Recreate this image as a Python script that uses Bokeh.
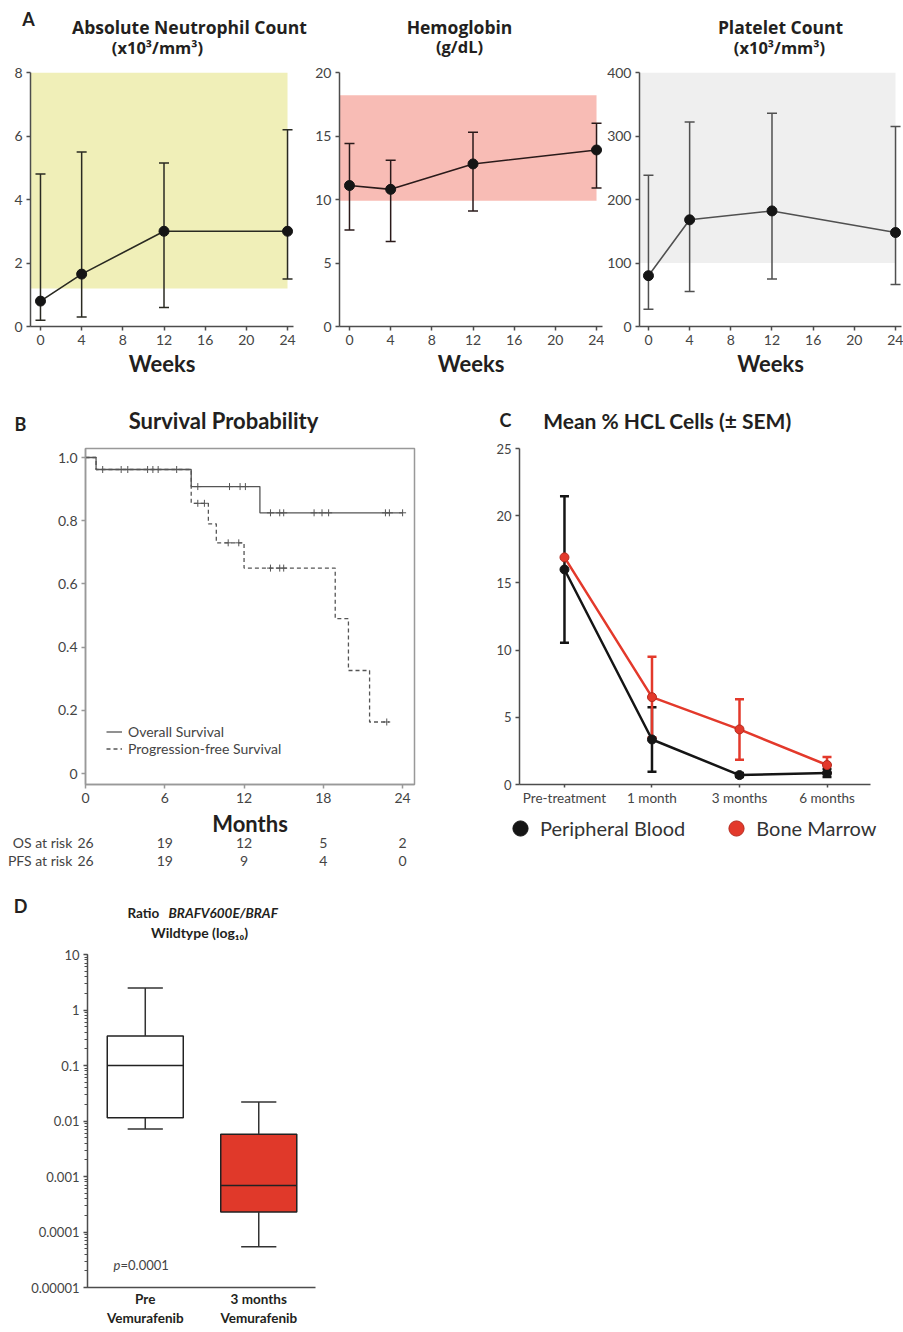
from bokeh.plotting import figure
from bokeh.layouts import column, row
from bokeh.core.properties import value
from bokeh.models import (Range1d, BoxAnnotation, Whisker, TeeHead, ColumnDataSource, Label,
                          FixedTicker, NumeralTickFormatter, Legend, LegendItem)
from bokeh.embed import file_html
from bokeh.resources import INLINE

FONT = "Lato"
TITLE_FONT = "Open Sans"
TXT = "#231f20"
AX = "#4d4d4d"

# ---------------- data ----------------
weeks = [0, 4, 12, 24]
week_ticks = [0, 4, 8, 12, 16, 20, 24]

anc_mean = [0.8, 1.65, 3.0, 3.0]
anc_lo = [0.2, 0.3, 0.6, 1.5]
anc_hi = [4.8, 5.5, 5.15, 6.2]
anc_norm = [1.2, 8.0]
anc_ticks = [0, 2, 4, 6, 8]

hgb_mean = [11.1, 10.8, 12.8, 13.9]
hgb_lo = [7.6, 6.7, 9.1, 10.9]
hgb_hi = [14.4, 13.1, 15.3, 16.0]
hgb_norm = [9.9, 18.2]
hgb_ticks = [0, 5, 10, 15, 20]

plt_mean = [80, 168, 182, 148]
plt_lo = [27, 55, 75, 66]
plt_hi = [238, 322, 336, 315]
plt_norm = [100, 400]
plt_ticks = [0, 100, 200, 300, 400]

os_t = [0, 0.8, 8.0, 13.2, 24.0]
os_s = [1.0, 0.962, 0.908, 0.825, 0.825]
pfs_t = [0, 0.8, 8.0, 9.3, 9.9, 12.0, 18.9, 19.9, 21.5, 23.0]
pfs_s = [1.0, 0.962, 0.855, 0.79, 0.73, 0.65, 0.49, 0.326, 0.163, 0.163]
os_cens_t = [1.3, 2.7, 3.2, 4.7, 5.1, 5.5, 6.9, 8.5, 10.9, 11.7, 12.1,
             14.0, 14.7, 15.0, 17.3, 17.9, 18.4, 22.7, 23.0, 24.0]
os_cens_s = [0.962] * 7 + [0.908] * 4 + [0.825] * 9
pfs_cens_t = [8.5, 9.0, 10.8, 11.6, 14.0, 14.7, 15.0, 22.8]
pfs_cens_s = [0.855, 0.855, 0.73, 0.73, 0.65, 0.65, 0.65, 0.163]
surv_ticks = [0, 0.2, 0.4, 0.6, 0.8, 1.0]
risk_months = [0, 6, 12, 18, 24]
os_risk = [26, 19, 12, 5, 2]
pfs_risk = [26, 19, 9, 4, 0]
risk_rows = ["OS at risk", "PFS at risk"]

hcl_cats = ["Pre-treatment", "1 month", "3 months", "6 months"]
hcl_series = ["Peripheral Blood", "Bone Marrow"]
pb_mean = [16.0, 3.35, 0.7, 0.85]
pb_sem = [5.45, 2.4, 0.15, 0.3]
bm_mean = [16.9, 6.5, 4.1, 1.45]
bm_sem = [float("nan"), 3.0, 2.25, 0.6]
hcl_ticks = [0, 5, 10, 15, 20, 25]

braf_groups = ["Pre\nVemurafenib", "3 months\nVemurafenib"]
braf_min = [0.0072, 0.000054]
braf_q1 = [0.0115, 0.00023]
braf_med = [0.10, 0.00069]
braf_q3 = [0.34, 0.0058]
braf_max = [2.5, 0.022]

PAGE_W = 903
RED = "#e3392b"
BLK = "#151515"
NAN = float("nan")


# ---------------- helpers ----------------
def make_fig(w, h, bl, br, bt, bb, xr, yr, y_type="linear"):
    p = figure(width=w, height=h, x_range=xr, y_range=yr, y_axis_type=y_type, title=None,
               output_backend="svg", toolbar_location=None,
               min_border_left=bl, min_border_right=br, min_border_top=bt, min_border_bottom=bb)
    p.grid.visible = False
    p.outline_line_color = None
    for ax in p.axis:
        ax.axis_line_color = AX
        ax.axis_line_width = 1.5
        ax.major_tick_line_color = AX
        ax.major_tick_line_width = 1.5
        ax.major_tick_in = 0
        ax.major_tick_out = 4
        ax.minor_tick_line_color = None
        ax.major_label_text_font = FONT
        ax.major_label_text_color = "#444444"
        ax.major_label_text_font_size = "14px"
        ax.major_label_standoff = 4
        ax.axis_label_text_font = FONT
        ax.axis_label_text_font_style = "bold"
        ax.axis_label_text_color = TXT
        ax.axis_label_text_font_size = "22px"
    return p


def text_fig(y0, h, xr=None):
    t = figure(width=PAGE_W, height=h, x_range=xr or Range1d(0, PAGE_W), y_range=Range1d(y0 + h, y0),
               title=None, output_backend="svg", toolbar_location=None,
               x_axis_location=None, y_axis_location=None,
               min_border_left=0, min_border_right=0, min_border_top=0, min_border_bottom=0)
    t.grid.visible = False
    t.outline_line_color = None
    return t


def put(t, xs, ys, texts, size, style="normal", align="center", color=TXT, font=FONT):
    t.text(x=xs, y=ys, text=texts, text_font=value(font), text_font_size=value(f"{size}px"),
           text_font_style=value(style), text_align=value(align), text_baseline=value("middle"),
           text_color=color)


def panel_a(w, h, bl, br, bt, bb, xr, yr, yticks, mean, lo, hi, norm, shade, line_c):
    p = make_fig(w, h, bl, br, bt, bb, xr, yr)
    p.add_layout(BoxAnnotation(right=weeks[-1], bottom=norm[0], top=norm[1], fill_color=shade,
                               fill_alpha=1.0, line_color=None, level="underlay"))
    src = ColumnDataSource(dict(x=weeks, m=mean, lo=lo, hi=hi))
    p.add_layout(Whisker(source=src, base="x", upper="hi", lower="lo", line_color=line_c,
                         line_width=1.5,
                         upper_head=TeeHead(size=10, line_color=line_c, line_width=1.5),
                         lower_head=TeeHead(size=10, line_color=line_c, line_width=1.5)))
    p.line("x", "m", source=src, line_color=line_c, line_width=1.6)
    p.scatter("x", "m", source=src, size=10, fill_color=BLK, line_color=BLK)
    p.xaxis.ticker = FixedTicker(ticks=week_ticks)
    p.yaxis.ticker = FixedTicker(ticks=yticks)
    p.xaxis.axis_label = "Weeks"
    p.xaxis.axis_label_standoff = 2
    return p


# ---------------- titles row for A (y 0..60) ----------------
tA = text_fig(0, 60)
put(tA, [28], [18], ["A"], 18, "bold")
put(tA, [189, 459, 780], [26, 26, 26],
    ["Absolute Neutrophil Count", "Hemoglobin", "Platelet Count"], 17.5, "bold", font=TITLE_FONT)
put(tA, [157, 459, 779], [47, 46, 47], ["(x10³/mm³)", "(g/dL)", "(x10³/mm³)"], 16.5, "bold",
    font=TITLE_FONT)

# ---------------- panel A (y 60..388) ----------------
A_H, A_BT, A_BB = 328, 12, 62
a1 = panel_a(300, A_H, 30, 7, A_BT, A_BB, Range1d(-0.97, 24.58), Range1d(0, 8),
             anc_ticks, anc_mean, anc_lo, anc_hi, anc_norm, "#f0efb8", "#2a2a22")
a2 = panel_a(304, A_H, 39, 2, A_BT, A_BB, Range1d(-0.97, 24.58), Range1d(0, 20),
             hgb_ticks, hgb_mean, hgb_lo, hgb_hi, hgb_norm, "#f8bcb5", "#2a1a1a")
a3 = panel_a(299, A_H, 34, 2, A_BT, A_BB, Range1d(-0.87, 24.58), Range1d(0, 400),
             plt_ticks, plt_mean, plt_lo, plt_hi, plt_norm, "#efefef", "#505050")

# ---------------- titles row for B, C (y 388..440) ----------------
tBC = text_fig(388, 52)
put(tBC, [20, 505], [423, 419], ["B", "C"], 18, "bold")
put(tBC, [223], [420], ["Survival Probability"], 22, "bold")
put(tBC, [667], [420], ["Mean % HCL Cells (± SEM)"], 21, "bold")

# ---------------- panel B (y 440..809) ----------------
R2_H, R2_BT, R2_BB = 369, 8, 25
B_BL, B_BR, B_W = 85, 46, 460
B_X = (0, 24.9)
b = make_fig(B_W, R2_H, B_BL, B_BR, R2_BT, R2_BB, Range1d(*B_X), Range1d(-0.0348, 1.0285))
b.outline_line_color = "#999999"
b.outline_line_width = 1.5
for ax in b.axis:
    ax.axis_line_color = "#999999"
    ax.major_tick_line_color = "#999999"
b.yaxis.ticker = FixedTicker(ticks=surv_ticks)
b.yaxis.formatter = NumeralTickFormatter(format="0.0")
b.yaxis.major_label_overrides = {0: "0"}
b.xaxis.ticker = FixedTicker(ticks=risk_months)
pfs_line = b.step(pfs_t, pfs_s, mode="after", line_color="#555555", line_width=1.3, line_dash="4 3")
os_line = b.step(os_t, os_s, mode="after", line_color="#555555", line_width=1.3)
b.scatter(os_cens_t, os_cens_s, marker="cross", size=7, line_color="#555555", line_width=1)
b.scatter(pfs_cens_t, pfs_cens_s, marker="cross", size=7, line_color="#555555", line_width=1)
legB = Legend(items=[LegendItem(label="Overall Survival", renderers=[os_line]),
                     LegendItem(label="Progression-free Survival", renderers=[pfs_line])],
              location=(21, 27), glyph_width=16, glyph_height=13, label_height=13,
              label_standoff=6, spacing=-4, padding=0, margin=0, border_line_color=None,
              background_fill_alpha=0, label_text_font=FONT, label_text_font_size="14px",
              label_text_color="#444444")
b.add_layout(legB)

# ---------------- panel C ----------------
c = make_fig(PAGE_W - B_W, R2_H, 59, 33, R2_BT, R2_BB, Range1d(-0.514, 3.497), Range1d(0, 25))
idx = list(range(len(hcl_cats)))
c.xaxis.ticker = FixedTicker(ticks=idx)
c.xaxis.major_label_overrides = {i: n for i, n in zip(idx, hcl_cats)}
c.xaxis.major_label_text_font_size = "13.5px"
c.xaxis.major_tick_out = 3
c.xaxis.major_label_standoff = 2
c.yaxis.ticker = FixedTicker(ticks=hcl_ticks)
c.yaxis.major_label_text_font_size = "13px"
pb_src = ColumnDataSource(dict(x=idx, m=pb_mean, lo=[m - s for m, s in zip(pb_mean, pb_sem)],
                               hi=[m + s for m, s in zip(pb_mean, pb_sem)]))
bm_src = ColumnDataSource(dict(x=idx, m=bm_mean, lo=[m - s for m, s in zip(bm_mean, bm_sem)],
                               hi=[m + s for m, s in zip(bm_mean, bm_sem)]))
for src, col in ((pb_src, BLK), (bm_src, RED)):
    c.add_layout(Whisker(source=src, base="x", upper="hi", lower="lo", line_color=col, line_width=2.5,
                         upper_head=TeeHead(size=9, line_color=col, line_width=2.5),
                         lower_head=TeeHead(size=9, line_color=col, line_width=2.5)))
c.line("x", "m", source=pb_src, line_color=BLK, line_width=2.5)
c.scatter("x", "m", source=pb_src, size=9, fill_color=BLK, line_color=BLK)
c.line("x", "m", source=bm_src, line_color=RED, line_width=2.5)
c.scatter("x", "m", source=bm_src, size=9, fill_color=RED, line_color="#b52a1e")

# ---------------- row below B/C (y 809..878): Months label, at-risk table, C legend ----------------
px_per_month = (B_W - B_BL - B_BR) / (B_X[1] - B_X[0])
R3_Y, R3_H = 809, 69
tR = text_fig(R3_Y, R3_H, xr=Range1d(B_X[0] - B_BL / px_per_month,
                                     B_X[0] + (PAGE_W - B_BL) / px_per_month))
put(tR, [(B_X[0] + B_X[1]) / 2], [823], ["Months"], 22, "bold")
row_y = [842, 860]
put(tR, [-1.0, -1.0], row_y, risk_rows, 14, align="right", color="#444444")
put(tR, risk_months, [row_y[0]] * len(risk_months), [str(v) for v in os_risk], 14, color="#444444")
put(tR, risk_months, [row_y[1]] * len(risk_months), [str(v) for v in pfs_risk], 14, color="#444444")
# legend keys for panel C (no data point of their own; styled like panel C markers)
pb_key = tR.scatter(x=[NAN], y=[NAN], size=9, fill_color=BLK, line_color=BLK)
bm_key = tR.scatter(x=[NAN], y=[NAN], size=9, fill_color=RED, line_color="#b52a1e")
legC = Legend(items=[LegendItem(label=hcl_series[0], renderers=[pb_key]),
                     LegendItem(label=hcl_series[1], renderers=[bm_key])],
              orientation="horizontal", location=(501, R3_Y + R3_H - 847),
              glyph_width=38, glyph_height=38, label_standoff=1, spacing=32, padding=0, margin=0,
              border_line_color=None, background_fill_alpha=0, label_text_font=FONT,
              label_text_font_size="20px", label_text_color="#333333")
tR.add_layout(legC)

# ---------------- titles for D (y 878..945) ----------------
tD = text_fig(878, 67)
put(tD, [20], [905], ["D"], 18, "bold")
put(tD, [127], [912], ["Ratio"], 13.5, "bold", align="left")
put(tD, [168], [912], ["BRAFV600E/BRAF"], 13.5, "bold italic", align="left")
put(tD, [199], [932], ["Wildtype (log₁₀)"], 14, "bold")

# ---------------- panel D (y 945..1332) ----------------
d = make_fig(330, 387, 87, 15, 9, 45, Range1d(-0.509, 1.5), Range1d(1e-5, 10), y_type="log")
gpos = list(range(len(braf_groups)))
half_box, half_cap = 0.335, 0.155
d.vbar(x=gpos, width=2 * half_box, bottom=braf_q1, top=braf_q3,
       fill_color=["white", "#e0392a"], line_color="#222222", line_width=1.5)
d.segment(x0=[g - half_box for g in gpos], y0=braf_med, x1=[g + half_box for g in gpos], y1=braf_med,
          line_color="#222222", line_width=1.5)
d.segment(x0=gpos, y0=braf_q3, x1=gpos, y1=braf_max, line_color="#333333", line_width=1.5)
d.segment(x0=gpos, y0=braf_q1, x1=gpos, y1=braf_min, line_color="#333333", line_width=1.5)
d.segment(x0=[g - half_cap for g in gpos], y0=braf_max, x1=[g + half_cap for g in gpos], y1=braf_max,
          line_color="#333333", line_width=1.5)
d.segment(x0=[g - half_cap for g in gpos], y0=braf_min, x1=[g + half_cap for g in gpos], y1=braf_min,
          line_color="#333333", line_width=1.5)
d.yaxis.formatter = NumeralTickFormatter(format="0.[00000]")
d.yaxis.minor_tick_line_color = AX
d.yaxis.minor_tick_line_width = 1
d.yaxis.minor_tick_in = 0
d.yaxis.minor_tick_out = 3
d.yaxis.major_label_text_font_size = "13px"
d.xaxis.ticker = FixedTicker(ticks=gpos)
d.xaxis.major_label_overrides = {g: n for g, n in zip(gpos, braf_groups)}
d.xaxis.major_tick_line_color = None
d.xaxis.major_tick_out = 0
d.xaxis.major_label_text_font_style = "bold"
d.xaxis.major_label_text_font_size = "13.5px"
d.xaxis.major_label_text_color = TXT
d.xaxis.major_label_standoff = 3
d.add_layout(Label(x=26, y=23, x_units="screen", y_units="screen", text="p", text_font=FONT,
                   text_font_size="13px", text_font_style="italic", text_color="#444444",
                   text_baseline="middle"))
d.add_layout(Label(x=33, y=23, x_units="screen", y_units="screen", text="=0.0001", text_font=FONT,
                   text_font_size="13px", text_color="#444444", text_baseline="middle"))

layout = column(row(tA), row(a1, a2, a3), row(tBC), row(b, c), row(tR), row(tD), row(d))
open("out.html", "w").write(file_html(layout, INLINE, "Vemurafenib in HCL"))
